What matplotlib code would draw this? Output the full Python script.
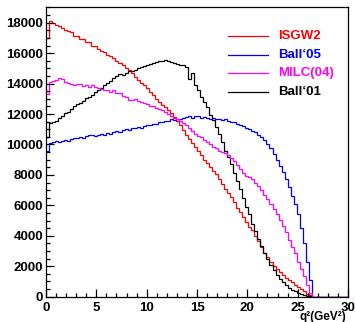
import matplotlib
matplotlib.use('Agg')
import matplotlib.pyplot as plt
import numpy as np
from matplotlib.ticker import MultipleLocator

# q^2 histograms, 100 bins of 0.3 GeV^2 from 0 to 30 (bins above 26.4 are empty)
labels = ['ISGW2', 'Ball\u201805', 'MILC(04)', 'Ball\u201801']
colors = ['#ff0000', '#0000ff', '#ff00ff', '#000000']

isgw2 = [17000, 18100, 17950, 17850, 17800, 17650, 17550, 17450, 17400, 17150,
         17100, 16950, 16900, 16750, 16700, 16500, 16450, 16300, 16150, 16050,
         15900, 15800, 15650, 15500, 15350, 15250, 15050, 14900, 14700, 14450,
         14250, 14050, 13900, 13700, 13450, 13250, 13000, 12800, 12600, 12450,
         12250, 12050, 11800, 11550, 11250, 10950, 10650, 10350, 10100, 9850,
         9600, 9300, 9000, 8750, 8500, 8250, 8050, 7700, 7400, 7050,
         6800, 6550, 6250, 5850, 5550, 5250, 4900, 4550, 4350, 4000,
         3650, 3250, 2900, 2600, 2300, 2000, 1800, 1600, 1450, 1250,
         1100, 950, 800, 650, 500, 350, 200, 100]

ball05 = [9600, 10100, 10150, 10200, 10150, 10250, 10300, 10200, 10350, 10400,
          10450, 10500, 10450, 10550, 10600, 10600, 10550, 10650, 10700, 10650,
          10750, 10700, 10800, 10900, 10850, 10950, 11000, 10950, 11050, 11100,
          11150, 11100, 11200, 11250, 11250, 11350, 11350, 11450, 11450, 11550,
          11550, 11650, 11600, 11700, 11650, 11750, 11800, 11850, 11750, 11900,
          11850, 11750, 11800, 11750, 11700, 11750, 11700, 11650, 11600, 11650,
          11550, 11500, 11450, 11350, 11300, 11200, 11100, 11000, 10900, 10800,
          10650, 10500, 10300, 10050, 9750, 9400, 9000, 8600, 8200, 7700,
          7200, 6600, 6100, 5400, 4500, 3500, 2300, 1100]

milc04 = [13300, 14100, 14200, 14250, 14350, 14300, 14100, 14050, 13950, 13900,
          14000, 13950, 13850, 13900, 13800, 13900, 13750, 13700, 13650, 13600,
          13550, 13450, 13550, 13400, 13350, 13200, 13150, 12950, 12900, 13000,
          12850, 12800, 12700, 12650, 12550, 12500, 12400, 12350, 12250, 12100,
          12000, 11850, 11750, 11650, 11550, 11400, 11300, 11100, 10900, 10700,
          10550, 10500, 10300, 10150, 10000, 9850, 9750, 9600, 9500, 9450,
          9300, 9100, 8900, 8650, 8400, 8150, 7950, 7850, 7700, 7450,
          7300, 7000, 6700, 6400, 6100, 5750, 5400, 5050, 4650, 4250,
          3750, 3250, 2850, 2250, 1800, 1350, 750, 250]

ball01 = [10500, 11400, 11500, 11550, 11750, 11900, 12050, 12150, 12350, 12500,
          12650, 12750, 12850, 13050, 13150, 13250, 13450, 13550, 13700, 13900,
          14050, 14150, 14350, 14500, 14600, 14550, 14700, 14800, 14850, 14900,
          15000, 15100, 15150, 15200, 15300, 15350, 15400, 15450, 15500, 15550,
          15500, 15400, 15350, 15300, 15250, 15200, 15100, 14300, 14700, 13900,
          13550, 13150, 12800, 12450, 11950, 11600, 11150, 10700, 10150, 9600,
          9150, 8700, 8100, 7600, 7050, 6500, 5900, 5400, 4800, 4300,
          3800, 3300, 2900, 2500, 2100, 1750, 1450, 1150, 950, 750,
          600, 450, 350, 250, 180, 100, 50, 20]

edges = np.linspace(0, 30, 101)


def padded(vals):
    out = np.zeros(len(edges) - 1)
    out[:len(vals)] = vals
    return out


plt.rcParams['font.family'] = ['Liberation Sans', 'DejaVu Sans']
plt.rcParams['font.weight'] = 'bold'

fig = plt.figure(figsize=(3.55, 3.22), dpi=100)
ax = fig.add_axes([0.1296, 0.0786, 0.8507, 0.9006])

series = [isgw2, ball05, milc04, ball01]
order = [0, 1, 3, 2]
for k in order:
    ax.stairs(padded(series[k]), edges, baseline=None, color=colors[k], lw=0.9)

ax.set_xlim(0, 30)
ax.set_ylim(0, 19050)
ax.xaxis.set_major_locator(MultipleLocator(5))
ax.xaxis.set_minor_locator(MultipleLocator(1))
ax.yaxis.set_major_locator(MultipleLocator(2000))
ax.yaxis.set_minor_locator(MultipleLocator(500))
ax.tick_params(which='both', direction='in', top=False, right=False,
               labelsize=9.5, width=0.9)
ax.tick_params(which='major', length=5.5)
ax.tick_params(which='minor', length=2.8)
ax.tick_params(axis='x', pad=3.5)
ax.tick_params(axis='y', pad=2)
for lab in ax.get_xticklabels() + ax.get_yticklabels():
    lab.set_fontweight('bold')
for sp in ax.spines.values():
    sp.set_linewidth(0.9)

ax.text(0.995, -0.05, 'q\u00b2(GeV\u00b2)', transform=ax.transAxes, ha='right',
        va='top', fontsize=8.5, fontweight='bold')

# legend, drawn by hand like the ROOT TLegend
for k in range(4):
    yy = 0.899 - k * 0.0645
    ax.plot([0.603, 0.735], [yy, yy], color=colors[k], lw=0.9,
            transform=ax.transAxes)
    ax.text(0.768, yy, labels[k], color=colors[k], transform=ax.transAxes,
            va='center', ha='left', fontsize=9.5, fontweight='bold')

fig.savefig('out.png', dpi=100)
